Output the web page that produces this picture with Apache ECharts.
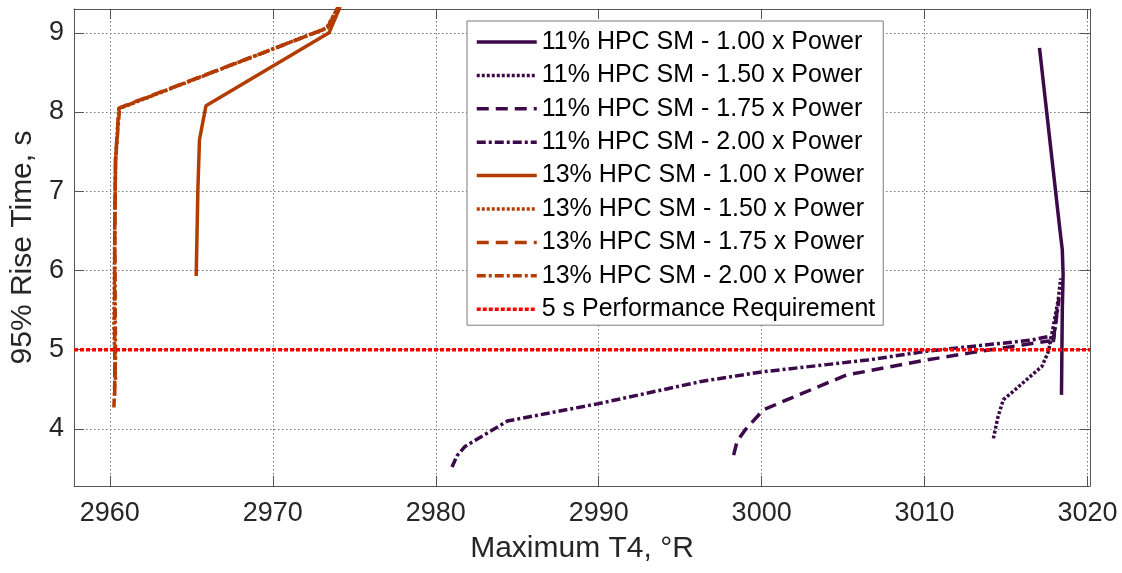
<!DOCTYPE html>
<html><head><meta charset="utf-8">
<script src="https://cdn.jsdelivr.net/npm/echarts@6/dist/echarts.min.js"></script>
<style>html,body{margin:0;padding:0;background:#fff}#c{width:1122px;height:573px}</style>
</head><body><div id="c"></div>
<script>
// ---- axis ranges & ticks ----
const xRange = [2957.8, 3020.15];
const yRange = [3.28, 9.30];
const xTickLabels = [2960, 2970, 2980, 2990, 3000, 3010, 3020];
const yTickLabels = [4, 5, 6, 7, 8, 9];
const xTitle = 'Maximum T4, \u00B0R';
const yTitle = '95% Rise Time, s';

// ---- series names ----
const seriesNames = [
  '11% HPC SM - 1.00 x Power',
  '11% HPC SM - 1.50 x Power',
  '11% HPC SM - 1.75 x Power',
  '11% HPC SM - 2.00 x Power',
  '13% HPC SM - 1.00 x Power',
  '13% HPC SM - 1.50 x Power',
  '13% HPC SM - 1.75 x Power',
  '13% HPC SM - 2.00 x Power',
  '5 s Performance Requirement'
];

// ---- data: [Maximum T4, 95% rise time] ----
const hpc11_p100 = [[3017.05,8.81],[3018.3,6.52],[3018.45,6.26],[3018.5,5.95],[3018.45,5.5],[3018.4,4.43]];
const hpc11_p150 = [[3014.22,3.88],[3014.5,4.15],[3014.83,4.37],[3015.3,4.45],[3016.47,4.66],[3017.2,4.79],[3017.6,4.98],[3017.9,5.3],[3018.2,5.63],[3018.35,5.9]];
const hpc11_p175 = [[2998.28,3.67],[2998.5,3.85],[2999.0,3.99],[3000.1,4.24],[3001.8,4.39],[3005.2,4.68],[3010.1,4.87],[3012.8,4.96],[3016.0,5.06],[3017.6,5.11],[3017.85,5.05],[3018.2,5.6]];
const hpc11_p200 = [[2981.0,3.52],[2981.3,3.66],[2981.8,3.78],[2984.4,4.10],[2990.0,4.32],[2996.3,4.60],[3000.0,4.72],[3006.5,4.87],[3010.1,4.98],[3016.5,5.12],[3017.7,5.17],[3017.9,5.1],[3018.25,5.65]];
const hpc13_p100 = [[2965.3,5.93],[2965.4,7.0],[2965.5,7.65],[2965.9,8.08],[2973.45,9.0],[2974.2,9.36]];
const hpc13_p150 = [[2960.35,4.62],[2960.25,5.3],[2960.3,6.5],[2960.35,7.4],[2960.55,8.04],[2973.3,9.06],[2974.1,9.36]];
const hpc13_p175 = [[2960.3,4.42],[2960.3,5.3],[2960.3,6.5],[2960.35,7.4],[2960.55,8.05],[2973.35,9.06],[2974.1,9.36]];
const hpc13_p200 = [[2960.25,4.27],[2960.35,4.9],[2960.3,6.5],[2960.35,7.4],[2960.6,8.05],[2973.35,9.06],[2974.1,9.36]];
const requirementLevel = 5;

const purple = '#3c0a4b';
const orange = '#b33c00';
const red = '#ff0000';
const FONT = 'Liberation Sans, Arial, sans-serif';

function lineSeries(name, data, color, type, width) {
  return {
    name: name, type: 'line', data: data, smooth: false, symbol: 'none',
    xAxisIndex: 0, yAxisIndex: 0, clip: true,
    lineStyle: { color: color, width: width || 3.5, type: type, cap: 'butt' },
    itemStyle: { color: color },
    emphasis: { disabled: true }
  };
}

const dotted = [3, 2];
const dashed = [12, 7];
const dashdot = [9, 3, 3, 3];

const reqData = [[xRange[0], requirementLevel], [xRange[1], requirementLevel]];

const seriesList = [
  lineSeries(seriesNames[0], hpc11_p100, purple, 'solid'),
  lineSeries(seriesNames[1], hpc11_p150, purple, dotted),
  lineSeries(seriesNames[2], hpc11_p175, purple, dashed),
  lineSeries(seriesNames[3], hpc11_p200, purple, dashdot),
  lineSeries(seriesNames[4], hpc13_p100, orange, 'solid'),
  lineSeries(seriesNames[5], hpc13_p150, orange, dotted),
  lineSeries(seriesNames[6], hpc13_p175, orange, dashed),
  lineSeries(seriesNames[7], hpc13_p200, orange, dashdot),
  lineSeries(seriesNames[8], reqData, red, [4, 2], 3.5)
];

const axisColor = '#555';
const labelColor = '#262626';

function isTick(list, v) {
  return list.some(t => Math.abs(t - v) < 1e-6);
}

const option = {
  animation: false,
  backgroundColor: '#fff',
  grid: { left: 74, right: 32, top: 9, bottom: 87, containLabel: false },
  legend: {
    orient: 'vertical', left: 467, top: 21,
    padding: [8.5, 8, 3.5, 8],
    itemWidth: 60, itemHeight: 14, itemGap: 8.4,
    backgroundColor: '#fff', borderColor: '#7a7a7a', borderWidth: 1,
    itemStyle: { opacity: 0, borderWidth: 0 },
    lineStyle: { width: 3.5 },
    textStyle: { fontSize: 25, lineHeight: 25, fontFamily: FONT, color: '#000' },
    data: seriesNames,
    selectedMode: false
  },
  xAxis: [{
    type: 'value', min: xRange[0], max: xRange[1], position: 'bottom',
    name: xTitle, nameLocation: 'middle', nameGap: 48,
    nameTextStyle: { fontSize: 30, fontFamily: FONT, color: labelColor },
    axisLine: { show: true, onZero: false, lineStyle: { color: axisColor, width: 1 } },
    axisTick: { show: true, inside: true, length: 10, lineStyle: { color: axisColor } },
    axisLabel: { fontSize: 27, fontFamily: FONT, color: labelColor, margin: 14,
      formatter: v => isTick(xTickLabels, v) ? String(Math.round(v)) : '' },
    splitLine: { show: true, lineStyle: { color: '#777', width: 1, type: [1.5, 2.5] } }
  }, {
    type: 'value', min: xRange[0], max: xRange[1], position: 'top',
    axisLine: { show: true, onZero: false, lineStyle: { color: axisColor, width: 1 } },
    axisTick: { show: true, inside: true, length: 10, lineStyle: { color: axisColor } },
    axisLabel: { show: false }, splitLine: { show: false }
  }],
  yAxis: [{
    type: 'value', min: yRange[0], max: yRange[1], position: 'left',
    name: yTitle, nameLocation: 'middle', nameGap: 30, nameRotate: 90,
    nameTextStyle: { fontSize: 30, fontFamily: FONT, color: labelColor },
    axisLine: { show: true, onZero: false, lineStyle: { color: axisColor, width: 1 } },
    axisTick: { show: true, inside: true, length: 10, lineStyle: { color: axisColor } },
    axisLabel: { fontSize: 27, fontFamily: FONT, color: labelColor, margin: 10,
      formatter: v => isTick(yTickLabels, v) ? String(Math.round(v)) : '' },
    splitLine: { show: true, lineStyle: { color: '#777', width: 1, type: [1.5, 2.5] } }
  }, {
    type: 'value', min: yRange[0], max: yRange[1], position: 'right',
    axisLine: { show: true, onZero: false, lineStyle: { color: axisColor, width: 1 } },
    axisTick: { show: true, inside: true, length: 10, lineStyle: { color: axisColor } },
    axisLabel: { show: false }, splitLine: { show: false }
  }],
  series: seriesList
};

const chart = echarts.init(document.getElementById('c'), null, { renderer: 'canvas' });
chart.setOption(option);
</script>
</body></html>
